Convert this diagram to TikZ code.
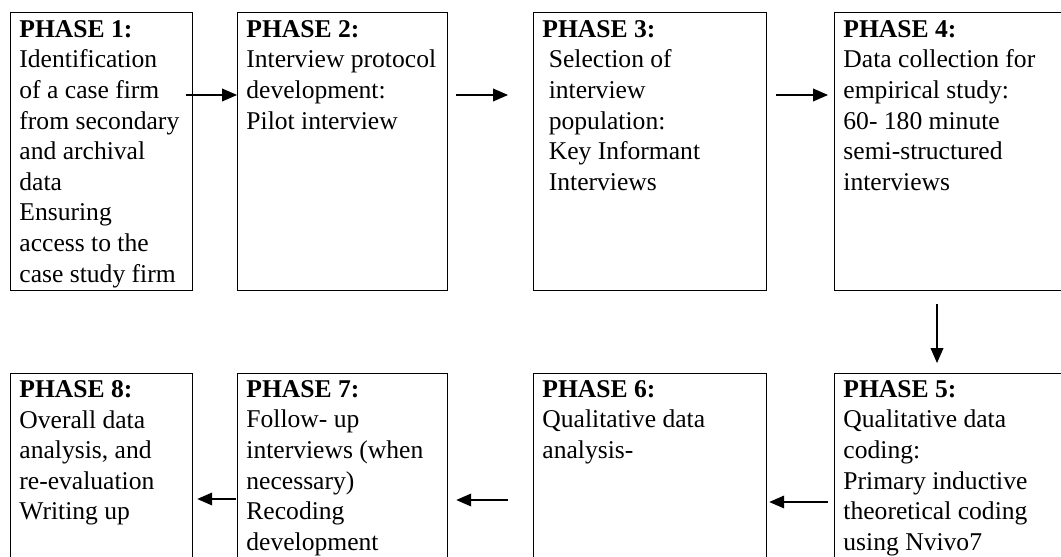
\documentclass[tikz,border=0pt]{standalone}
\usepackage{fontspec}
\setmainfont{Liberation Serif}
\usetikzlibrary{arrows.meta}
\newcommand{\pxu}{0.469pt}

\begin{document}
\begin{tikzpicture}[x=0.469pt, y=-0.469pt,
    phasebox/.style={draw, rectangle, line width=0.6pt, inner sep=0pt, anchor=north west, minimum height=278*\pxu, minimum width=#1*\pxu},
    phasetext/.style={anchor=north west, inner sep=0pt, align=left, font=\fontsize{12}{14.35}\selectfont},
    arr/.style={-{Triangle[length=7pt, width=6pt]}, line width=0.5pt}]
        \clip (0,0) rectangle (1061,557);

        \node (p1) [phasebox=182] at (10,12) {};
        \node (p2) [phasebox=210] at (237,12) {};
        \node (p3) [phasebox=233] at (533,12) {};
        \node (p4) [phasebox=260] at (834,12) {};
        \node (p5) [phasebox=260] at (834,373) {};
        \node (p6) [phasebox=233] at (533,373) {};
        \node (p7) [phasebox=210] at (237,373) {};
        \node (p8) [phasebox=182] at (10,373) {};

        \node (t1) [phasetext] at ([shift={(9,8)}]p1.north west) {\textbf{PHASE 1:}\\Identification\\of a case firm\\from secondary\\and archival\\data\\Ensuring\\access to the\\case study firm};
        \node (t2) [phasetext] at ([shift={(9,8)}]p2.north west) {\textbf{PHASE 2:}\\Interview protocol\\development:\\Pilot interview};
        \node (t3) [phasetext] at ([shift={(9,8)}]p3.north west) {\textbf{PHASE 3:}\\\hspace*{3pt}Selection of\\\hspace*{3pt}interview\\\hspace*{3pt}population:\\\hspace*{3pt}Key Informant\\\hspace*{3pt}Interviews};
        \node (t4) [phasetext] at ([shift={(9,8)}]p4.north west) {\textbf{PHASE 4:}\\Data collection for\\empirical study:\\60- 180 minute\\semi-structured\\interviews};
        \node (t5) [phasetext] at ([shift={(9,7)}]p5.north west) {\textbf{PHASE 5:}\\Qualitative data\\coding:\\Primary inductive\\theoretical coding\\using Nvivo7};
        \node (t6) [phasetext] at ([shift={(9,7)}]p6.north west) {\textbf{PHASE 6:}\\Qualitative data\\analysis-};
        \node (t7) [phasetext] at ([shift={(9,7)}]p7.north west) {\textbf{PHASE 7:}\\Follow- up\\interviews (when\\necessary)\\Recoding\\development};
        \node (t8) [phasetext] at ([shift={(9,7)}]p8.north west) {\textbf{PHASE 8:}\\Overall data\\analysis, and\\re-evaluation\\Writing up};

        \draw[arr] ([shift={(-7,83)}]p1.north east) -- ([shift={(0,83)}]p2.north west);
        \draw[arr] ([shift={(8,83)}]p2.north east) -- ([shift={(-25,83)}]p3.north west);
        \draw[arr] ([shift={(9,83)}]p3.north east) -- ([shift={(-6,83)}]p4.north west);
        \draw[arr] ([shift={(103,13)}]p4.south west) -- ([shift={(103,-10)}]p5.north west);
        \draw[arr] ([shift={(-6,129)}]p5.north west) -- ([shift={(2,129)}]p6.north east);
        \draw[arr] ([shift={(-25,127)}]p6.north west) -- ([shift={(8,127)}]p7.north east);
        \draw[arr] ([shift={(-1,126)}]p7.north west) -- ([shift={(4,126)}]p8.north east);
    \end{tikzpicture}
\end{document}
